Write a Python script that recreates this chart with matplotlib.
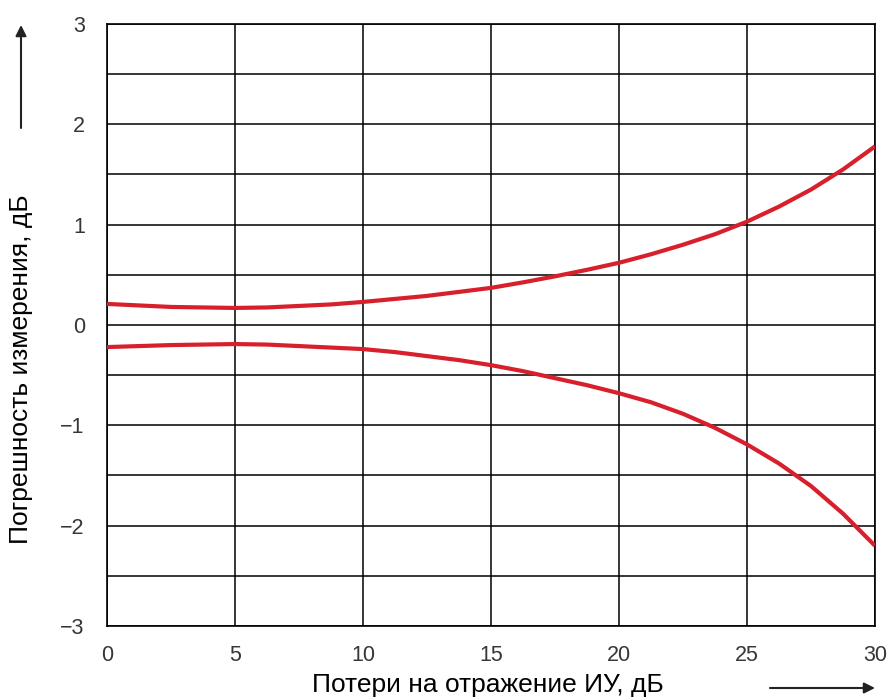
import numpy as np
import matplotlib
matplotlib.use('Agg')
import matplotlib.pyplot as plt

plt.rcParams['font.family'] = ['Liberation Sans', 'DejaVu Sans']

# return loss of the DUT, dB
x_loss = [0, 1.25, 2.5, 3.75, 5, 6.25, 7.5, 8.75, 10, 11.25, 12.5, 13.75, 15,
          16.25, 17.5, 18.75, 20, 21.25, 22.5, 23.75, 25, 26.25, 27.5, 28.75, 30]
# measurement error bounds, dB
err_upper = [0.21, 0.195, 0.18, 0.175, 0.17, 0.175, 0.19, 0.205, 0.23, 0.26, 0.29, 0.33, 0.37,
             0.425, 0.485, 0.55, 0.62, 0.705, 0.80, 0.905, 1.03, 1.18, 1.35, 1.55, 1.78]
err_lower = [-0.22, -0.21, -0.20, -0.195, -0.19, -0.195, -0.21, -0.225, -0.24, -0.27, -0.31, -0.35, -0.40,
             -0.46, -0.53, -0.60, -0.68, -0.77, -0.885, -1.025, -1.19, -1.38, -1.605, -1.88, -2.20]

x_ticks = [0, 5, 10, 15, 20, 25, 30]
y_ticks = [-3, -2, -1, 0, 1, 2, 3]
y_tick_labels = ['\u22123', '\u22122', '\u22121', '0', '1', '2', '3']

red = '#d8202c'

fig = plt.figure(figsize=(8.93, 6.99), dpi=100)
ax = fig.add_axes([107 / 893, 1 - 626 / 699, 768 / 893, 602 / 699])

ax.plot(x_loss, err_upper, color=red, lw=3.0, solid_capstyle='butt', solid_joinstyle='round', zorder=3)
ax.plot(x_loss, err_lower, color=red, lw=3.0, solid_capstyle='butt', solid_joinstyle='round', zorder=3)

ax.set_xlim(0, 30)
ax.set_ylim(-3, 3)
ax.set_xticks(x_ticks)
ax.set_yticks(y_ticks)
ax.set_yticklabels(y_tick_labels)
ax.set_xticks(np.arange(0, 31, 5), minor=True)
ax.set_yticks(np.arange(-3, 3.01, 0.5), minor=True)
ax.grid(True, which='both', color='black', lw=1.1)
ax.tick_params(which='both', length=0)
ax.tick_params(axis='x', pad=14, labelsize=15.5, labelcolor='#363636')
ax.tick_params(axis='y', pad=16, labelsize=15.5, labelcolor='#363636')
for s in ax.spines.values():
    s.set_linewidth(1.2)
    s.set_color('black')

ax.set_xlabel('Потери на отражение ИУ, дБ', fontsize=19, va='center')
ax.xaxis.set_label_coords(0.496, -0.098)
ax.set_ylabel('Погрешность измерения, дБ', fontsize=19, va='center')
ax.yaxis.set_label_coords(-0.112, 0.427)

arrow = dict(arrowstyle='-|>', color='#222222', lw=1.5, mutation_scale=16, shrinkA=0, shrinkB=0)
ax.annotate('', xy=(875, 11), xytext=(770, 11), xycoords='figure pixels',
            textcoords='figure pixels', arrowprops=arrow, annotation_clip=False)
ax.annotate('', xy=(21, 674), xytext=(21, 571), xycoords='figure pixels',
            textcoords='figure pixels', arrowprops=arrow, annotation_clip=False)

fig.savefig('out.png', dpi=100)
